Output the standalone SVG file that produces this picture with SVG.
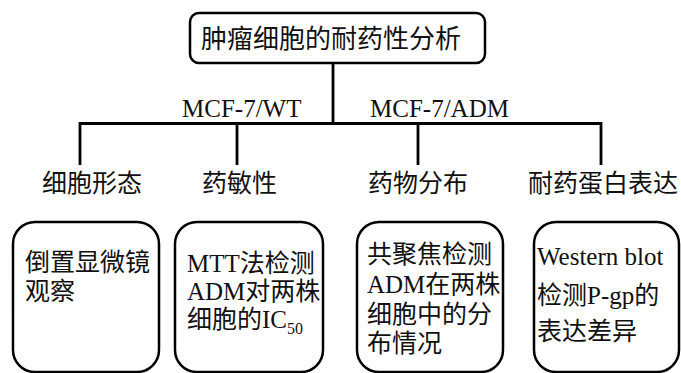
<svg xmlns="http://www.w3.org/2000/svg" width="681" height="373" viewBox="0 0 681 373">
<style>
text{font-family:"Liberation Serif","Noto Sans CJK SC",serif;font-size:25px;fill:#111}
.box{fill:#fff;stroke:#000;stroke-width:2.5}
.ln{fill:none;stroke:#000;stroke-width:2.8}
.sub{font-size:16px}
</style>
<rect width="681" height="373" fill="#fff"/>
<g id="connectors">
<path class="ln" d="M333 63V123.5M80 165V123.5H601V165M237 123.5V165M418 123.5V165"/>
</g>
<g id="root">
<rect class="box" x="190" y="13" width="295" height="50" rx="9"/>
<text x="331" y="48" text-anchor="middle" style="font-size:26px">肿瘤细胞的耐药性分析</text>
</g>
<g id="label-wt"><text x="182" y="117">MCF-7/WT</text></g>
<g id="label-adm"><text x="370" y="117">MCF-7/ADM</text></g>
<g id="cat1"><text x="42" y="192">细胞形态</text></g>
<g id="cat2"><text x="202" y="192">药敏性</text></g>
<g id="cat3"><text x="368" y="192">药物分布</text></g>
<g id="cat4"><text x="528" y="192">耐药蛋白表达</text></g>
<g id="box1">
<rect class="box" x="13" y="222" width="146" height="150" rx="22"/>
<text x="25" y="271">倒置显微镜</text>
<text x="25" y="300">观察</text>
</g>
<g id="box2">
<rect class="box" x="175" y="222" width="148" height="150" rx="22"/>
<text x="187" y="272">MTT法检测</text>
<text x="187" y="300">ADM对两株</text>
<text x="187" y="328">细胞的IC<tspan class="sub" dy="6">50</tspan></text>
</g>
<g id="box3">
<rect class="box" x="357" y="222" width="146" height="150" rx="22"/>
<text x="367" y="263">共聚焦检测</text>
<text x="367" y="293">ADM在两株</text>
<text x="367" y="323">细胞中的分</text>
<text x="367" y="352">布情况</text>
</g>
<g id="box4">
<rect class="box" x="534" y="222" width="145" height="150" rx="22"/>
<text x="537" y="265">Western blot</text>
<text x="537" y="304">检测P-gp的</text>
<text x="537" y="340">表达差异</text>
</g>
</svg>
